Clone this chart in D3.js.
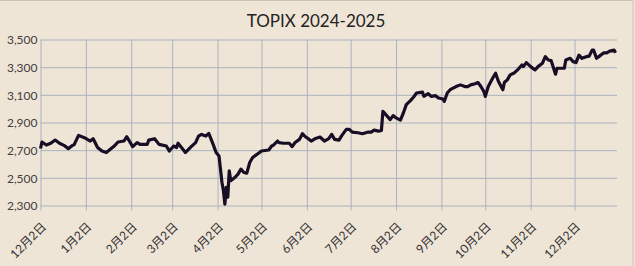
<!DOCTYPE html>
<html>
<head>
<meta charset="utf-8">
<script src="https://cdn.jsdelivr.net/npm/d3@7"></script>
<style>
  html, body { margin: 0; padding: 0; background: #efe5d7; }
  svg { display: block; }
  .title { font-family: Lato, "Open Sans", sans-serif; font-size: 17px; fill: #222; }
  .ylab { font-family: Lato, "Open Sans", sans-serif; font-size: 12px; fill: #404040; }
  .xlab { font-family: Lato, "Noto Sans CJK JP", sans-serif; font-size: 12px; fill: #333; }
</style>
</head>
<body>
<div id="chart"></div>
<script>
// TOPIX closes (approximate)
var dates = [
  "2024-12-02","2024-12-03","2024-12-06","2024-12-09","2024-12-12","2024-12-15","2024-12-18",
  "2024-12-21","2024-12-24","2024-12-25","2024-12-28","2025-01-01","2025-01-05","2025-01-07",
  "2025-01-10","2025-01-13","2025-01-16","2025-01-21","2025-01-24","2025-01-28","2025-01-30",
  "2025-02-03","2025-02-06","2025-02-08","2025-02-13","2025-02-14","2025-02-18","2025-02-21",
  "2025-02-26","2025-02-28","2025-03-03","2025-03-05","2025-03-06","2025-03-09","2025-03-11",
  "2025-03-15","2025-03-18","2025-03-20","2025-03-22","2025-03-25","2025-03-27","2025-03-30",
  "2025-04-01","2025-04-03","2025-04-04","2025-04-05","2025-04-06","2025-04-07","2025-04-08",
  "2025-04-09","2025-04-10","2025-04-11","2025-04-14","2025-04-16","2025-04-18","2025-04-20",
  "2025-04-22","2025-04-24","2025-04-26","2025-04-30","2025-05-02","2025-05-07","2025-05-09",
  "2025-05-10","2025-05-13","2025-05-14","2025-05-17","2025-05-21","2025-05-23","2025-05-25",
  "2025-05-28","2025-05-30","2025-06-01","2025-06-03","2025-06-05","2025-06-08","2025-06-11",
  "2025-06-14","2025-06-17","2025-06-19","2025-06-21","2025-06-24","2025-06-26","2025-06-29",
  "2025-07-01","2025-07-03","2025-07-07","2025-07-10","2025-07-14","2025-07-16","2025-07-18",
  "2025-07-21","2025-07-23","2025-07-24","2025-07-26","2025-07-29","2025-07-31","2025-08-02",
  "2025-08-05","2025-08-07","2025-08-09","2025-08-12","2025-08-14","2025-08-16","2025-08-20",
  "2025-08-21","2025-08-24","2025-08-26","2025-08-29","2025-08-31","2025-09-03","2025-09-04",
  "2025-09-06","2025-09-08","2025-09-12","2025-09-15","2025-09-18","2025-09-20","2025-09-22",
  "2025-09-25","2025-09-27","2025-09-29","2025-10-01","2025-10-02","2025-10-04","2025-10-07",
  "2025-10-09","2025-10-11","2025-10-14","2025-10-15","2025-10-17","2025-10-19","2025-10-22",
  "2025-10-24","2025-10-27","2025-10-28","2025-10-30","2025-11-02","2025-11-05","2025-11-07",
  "2025-11-10","2025-11-12","2025-11-14","2025-11-16","2025-11-19","2025-11-20","2025-11-23",
  "2025-11-25","2025-11-26","2025-11-29","2025-12-01","2025-12-03","2025-12-05","2025-12-07",
  "2025-12-10","2025-12-12","2025-12-14","2025-12-15","2025-12-17","2025-12-19","2025-12-22",
  "2025-12-24","2025-12-26","2025-12-29","2025-12-30"
];
var values = [
  2712,2759,2737,2750,2773,2750,2735,
  2711,2735,2740,2807,2790,2766,2783,
  2719,2694,2683,2726,2759,2766,2797,
  2726,2755,2742,2742,2773,2783,2742,
  2730,2694,2730,2719,2750,2711,2683,
  2726,2755,2802,2814,2802,2821,2742,
  2683,2658,2563,2468,2408,2310,2432,
  2360,2551,2479,2504,2527,2563,2539,
  2534,2611,2647,2678,2694,2701,2730,
  2735,2766,2755,2750,2750,2726,2755,
  2778,2819,2797,2783,2766,2785,2795,
  2766,2783,2814,2778,2773,2807,2850,
  2850,2831,2826,2819,2831,2831,2845,
  2838,2843,2981,2957,2921,2950,2933,
  2917,2969,3029,3060,3084,3113,3120,
  3089,3108,3089,3094,3077,3070,3053,
  3113,3137,3160,3172,3160,3160,3172,
  3180,3189,3160,3124,3089,3160,3220,
  3256,3196,3137,3189,3208,3244,3260,
  3280,3316,3304,3333,3304,3280,3304,
  3328,3376,3352,3347,3249,3292,3292,
  3292,3352,3364,3340,3333,3387,3364,
  3376,3380,3423,3423,3364,3380,3404,
  3404,3416,3423,3404
];
var tickDates = [
  "2024-12-02","2025-01-02","2025-02-02","2025-03-02","2025-04-02","2025-05-02","2025-06-02",
  "2025-07-02","2025-08-02","2025-09-02","2025-10-02","2025-11-02","2025-12-02"
];
var yTicks = [2300, 2500, 2700, 2900, 3100, 3300, 3500];
var titleText = "TOPIX 2024-2025";

var W = 635, H = 266;
var parse = d3.timeParse("%Y-%m-%d");
var data = dates.map(function(d, i) { return {k: parse(d), v: values[i]}; });

var svg = d3.select("#chart").append("svg")
  .attr("width", W)
  .attr("height", H);

// chart area border (only top / right visible in the original)
svg.append("rect")
  .attr("x", -1).attr("y", 0.5)
  .attr("width", 634).attr("height", H + 2)
  .style("fill", "#efe5d7")
  .style("stroke", "#c9c4bc");

var x = d3.scaleTime()
  .domain([parse("2024-12-02"), parse("2025-12-31")])
  .range([40.5, 617]);
var y = d3.scaleLinear()
  .domain([2300, 3500])
  .range([205.5, 39.5]);

svg.append("text")
  .attr("class", "title")
  .attr("x", 316).attr("y", 27)
  .attr("text-anchor", "middle")
  .text(titleText);

// horizontal gridlines + y labels
var yAxis = d3.axisLeft(y)
  .tickValues(yTicks)
  .tickFormat(d3.format(","))
  .tickSize(-(x.range()[1] - x.range()[0]))
  .tickPadding(4);

var gy = svg.append("g")
  .attr("transform", "translate(" + x.range()[0] + ",0)")
  .call(yAxis);
gy.select(".domain").remove();
gy.selectAll("line").style("stroke", "#aab3bf").style("stroke-width", 1);
gy.selectAll("text").attr("class", "ylab").attr("x", -3).attr("dy", "0.35em");

// vertical gridlines + rotated date labels
var fmt = d3.timeFormat("%-m月%-d日");
var xAxis = d3.axisBottom(x)
  .tickValues(tickDates.map(parse))
  .tickFormat(fmt)
  .tickSizeOuter(0);

var gx = svg.append("g")
  .attr("transform", "translate(0," + y.range()[0] + ")")
  .call(xAxis);
gx.select(".domain").remove();
gx.selectAll("line")
  .attr("y2", -(y.range()[0] - y.range()[1]))
  .attr("y1", 5)
  .style("stroke", "#aab3bf").style("stroke-width", 1);
gx.selectAll("text")
  .attr("class", "xlab")
  .attr("text-anchor", "end")
  .attr("y", 0).attr("dy", "0.35em")
  .attr("transform", "translate(3,19) rotate(-45)");

var line = d3.line()
  .x(function(d) { return x(d.k); })
  .y(function(d) { return y(d.v); });

svg.append("path")
  .datum(data)
  .style("fill", "none")
  .style("stroke", "#170d24")
  .style("stroke-width", 3.2)
  .style("stroke-linejoin", "round")
  .attr("d", line);
</script>
</body>
</html>
